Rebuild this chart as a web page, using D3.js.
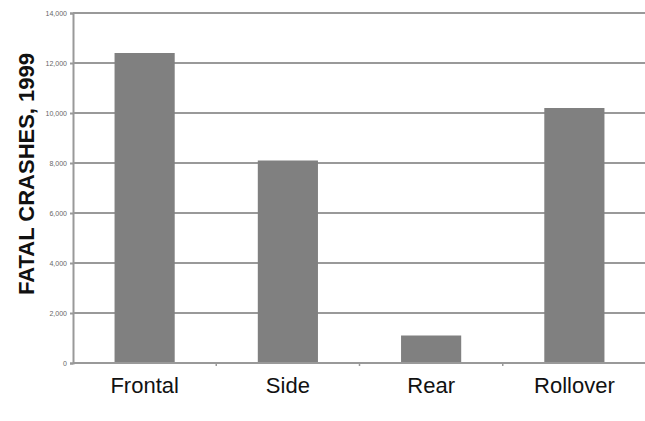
<!DOCTYPE html>
<html><head><meta charset="utf-8">
<script src="https://cdn.jsdelivr.net/npm/d3@7"></script>
<style>body{margin:0;background:#fff}svg{display:block}</style>
</head><body><svg id="c" width="645" height="421"></svg>
<script>
const categories = ["Frontal", "Side", "Rear", "Rollover"];
const values = [12400, 8100, 1100, 10200];
const yTicks = [0, 2000, 4000, 6000, 8000, 10000, 12000, 14000];
const yTitle = "FATAL CRASHES, 1999";

const svg = d3.select("#c");
const m = {left: 73, right: 0, top: 13, bottom: 58};
const W = 645, H = 421;
const x = d3.scaleBand().domain(categories).range([m.left, 646]).paddingInner(0.58).paddingOuter(0.29);
const y = d3.scaleLinear().domain([0, 14000]).range([H - m.bottom, m.top]);

// gridlines
svg.append("g").selectAll("line").data(yTicks.slice(1)).join("line")
  .attr("x1", m.left).attr("x2", W).attr("y1", d => y(d)).attr("y2", d => y(d))
  .attr("stroke", "#999").attr("stroke-width", 2);

// bars
svg.append("g").selectAll("rect").data(values).join("rect")
  .attr("x", (d, i) => x(categories[i])).attr("width", x.bandwidth())
  .attr("y", d => y(d)).attr("height", d => y(0) - y(d))
  .attr("fill", "#808080");

// y axis
const ya = svg.append("g").attr("transform", `translate(${m.left},0)`)
  .call(d3.axisLeft(y).tickValues(yTicks).tickSize(3).tickPadding(3).tickFormat(d3.format(",")));
ya.select(".domain").attr("stroke", "#999").attr("stroke-width", 2);
ya.selectAll(".tick line").attr("stroke", "#999").attr("stroke-width", 2);
ya.selectAll("text").attr("font-family", "Arial, Liberation Sans, sans-serif").attr("font-size", 7).attr("fill", "#666");

// x axis
const xa = svg.append("g").attr("transform", `translate(0,${y(0)})`)
  .call(d3.axisBottom(x).tickSize(0).tickPadding(14));
xa.select(".domain").attr("stroke", "#999").attr("stroke-width", 2).attr("d", `M${m.left},0H${W}`);
xa.selectAll("text").attr("font-family", "Arial, Liberation Sans, sans-serif").attr("font-size", 22).attr("fill", "#111");
// boundary ticks between categories
svg.append("g").selectAll("line").data(categories.slice(1)).join("line")
  .attr("x1", d => x(d) - (x.step() - x.bandwidth()) / 2)
  .attr("x2", d => x(d) - (x.step() - x.bandwidth()) / 2)
  .attr("y1", y(0)).attr("y2", y(0) + 3).attr("stroke", "#999").attr("stroke-width", 1.5);

// y title
svg.append("text").attr("transform", `translate(34,${(y(0) + y(14000)) / 2 - 14}) rotate(-90)`)
  .attr("text-anchor", "middle").attr("font-family", "Arial, Liberation Sans, sans-serif")
  .attr("font-weight", "bold").attr("font-size", 22).attr("fill", "#111").text(yTitle);
</script></body></html>
